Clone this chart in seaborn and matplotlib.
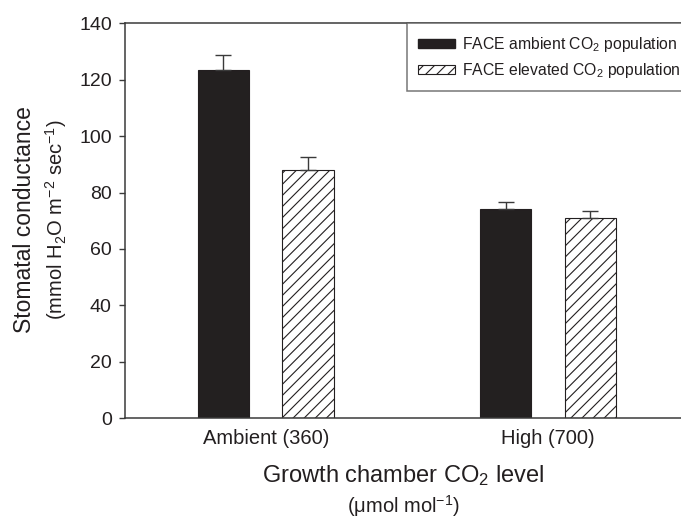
import matplotlib
matplotlib.use("Agg")
import matplotlib.pyplot as plt
from matplotlib.patches import Patch
import seaborn as sns
import pandas as pd

# ---- data ----
chambers = ["Ambient (360)", "High (700)"]
populations = ["FACE ambient CO$_2$ population", "FACE elevated CO$_2$ population"]
ambient_pop_values = [123.5, 74.2]
elevated_pop_values = [88.0, 71.1]
ambient_pop_se = [5.3, 2.6]
elevated_pop_se = [4.5, 2.4]
y_ticks = [0, 20, 40, 60, 80, 100, 120, 140]

sns.set_style("ticks")
plt.rcParams["font.family"] = ["Liberation Sans", "DejaVu Sans"]
plt.rcParams["mathtext.fontset"] = "custom"
plt.rcParams["mathtext.rm"] = "Liberation Sans"
plt.rcParams["mathtext.it"] = "Liberation Sans:italic"
plt.rcParams["mathtext.bf"] = "Liberation Sans:bold"
plt.rcParams["hatch.linewidth"] = 0.8
plt.rcParams["hatch.color"] = "#231f20"

TXT = "#231f20"
BLACK = "#231f20"

df = pd.DataFrame({
    "chamber": chambers * 2,
    "population": [populations[0]] * 2 + [populations[1]] * 2,
    "value": ambient_pop_values + elevated_pop_values,
})

fig = plt.figure(figsize=(6.81, 5.22), dpi=100)
ax = fig.add_axes([0.1836, 0.1987, 0.8164, 0.7567])

sns.barplot(data=df, x="chamber", y="value", hue="population",
            order=chambers, hue_order=populations,
            palette=[BLACK, "white"], width=0.6, gap=0.392,
            errorbar=None, legend=False, ax=ax, linewidth=0.8)

ses = [ambient_pop_se, elevated_pop_se]
for i, (cont, se) in enumerate(zip(ax.containers, ses)):
    for bar, e in zip(cont, se):
        bar.set_edgecolor(BLACK)
        if i == 1:
            bar.set_hatch("///")
        xc = bar.get_x() + bar.get_width() / 2
        top = bar.get_height()
        ax.errorbar([xc], [top], yerr=[[0], [e]], fmt="none",
                    ecolor="#3a3a3a", elinewidth=1.0, capsize=5.5,
                    capthick=1.0, zorder=1)

ax.set_xlim(-0.4987, 1.471)
ax.set_ylim(0, 140)
ax.set_yticks(y_ticks)
ax.set_xlabel("")
ax.set_ylabel("")

for s in ["left", "bottom", "top"]:
    ax.spines[s].set_color("#3a3a3a")
    ax.spines[s].set_linewidth(1.1)
ax.spines["right"].set_visible(False)

ax.tick_params(axis="y", direction="out", length=4.5, width=1.0,
               color="#3a3a3a", labelsize=14, labelcolor=TXT, pad=5)
ax.tick_params(axis="x", length=0, labelsize=14.5, labelcolor=TXT, pad=8)

handles = [Patch(facecolor=BLACK, edgecolor=BLACK),
           Patch(facecolor="white", edgecolor=BLACK, hatch="///", linewidth=0.8)]
leg = ax.legend(handles, populations, loc="upper left",
                bbox_to_anchor=(0.5066, 1.0), borderaxespad=0,
                frameon=True, fancybox=False, edgecolor="#555555",
                fontsize=11.3, handlelength=2.3, handleheight=0.5,
                handletextpad=0.5, labelspacing=0.42, borderpad=0.75,
                labelcolor=TXT)
leg.get_frame().set_linewidth(1.1)

fig.text(0.0367, 0.5785, "Stomatal conductance", rotation=90,
         ha="center", va="center", fontsize=16.5, color=TXT)
fig.text(0.082, 0.5785, "(mmol H$_2$O m$^{-2}$ sec$^{-1}$)", rotation=90,
         ha="center", va="center", fontsize=14.5, color=TXT)
fig.text(0.592, 1 - 476 / 522, "Growth chamber CO$_2$ level",
         ha="center", va="center", fontsize=17, color=TXT)
fig.text(0.592, 1 - 506 / 522, "(\u03bcmol mol$^{-1}$)",
         ha="center", va="center", fontsize=14.5, color=TXT)

fig.savefig("out.png", dpi=100)
